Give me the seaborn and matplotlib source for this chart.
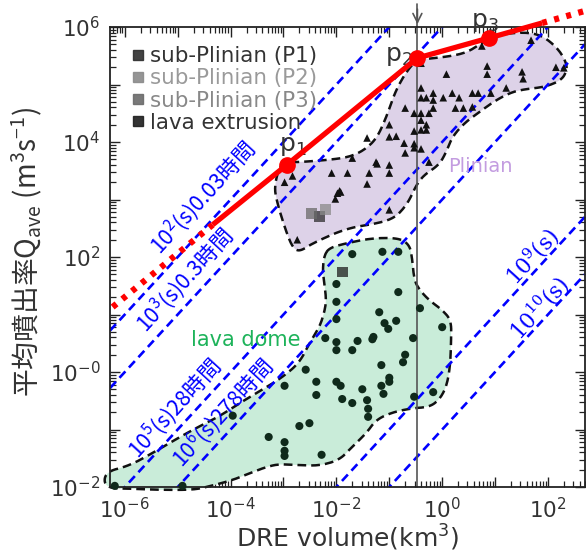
import numpy as np
import seaborn as sns
import matplotlib.pyplot as plt
from matplotlib.lines import Line2D
from matplotlib.ticker import FixedLocator, FixedFormatter, LogLocator, NullFormatter

sns.set_style('ticks')
plt.rcParams['font.family'] = ['DejaVu Sans', 'Noto Sans CJK JP']
plt.rcParams['mathtext.fontset'] = 'dejavusans'
CJK = ['Noto Sans CJK JP', 'DejaVu Sans']

# all values, stored as log10 (V: km3, Q: m3/s)
plinian_logV = [0.75, 1.68, -0.40, 0.08, 0.85, 0.85, 1.51, 1.53, 2.15, 2.30,
                -0.40, -0.40, -0.30, -0.17, -0.17, 0.02, 0.19, 0.32, 0.57, 0.68,
                0.92, 1.21, 0.57, 0.40, 0.25, -0.17, -0.25, -0.53, -0.40, -0.70,
                -0.40, -0.30, -0.40, -0.30, -0.53, -1.00, -1.00, -0.87, -0.72, -0.53,
                -0.53, -0.40, -0.70, -1.42, -1.25, -1.23, -1.00, -1.00, -1.38, -1.79,
                -2.09, -2.83, -2.98, -1.42, -1.94, -1.98, -0.25, -2.02, -1.00, -2.74,
                -1.92, -1.70]
plinian_logQ = [5.67, 5.77, 5.37, 5.18, 5.32, 5.18, 5.22, 5.10, 5.30, 5.29,
                4.94, 4.77, 4.77, 4.85, 4.73, 4.77, 4.85, 4.77, 4.85, 4.85,
                4.85, 4.94, 4.61, 4.59, 4.59, 4.59, 4.50, 4.50, 4.50, 4.59,
                4.38, 4.30, 4.21, 4.21, 4.19, 4.30, 4.09, 4.10, 3.98, 3.97,
                3.90, 3.88, 3.81, 4.07, 3.65, 3.62, 3.60, 3.46, 3.46, 3.46,
                3.46, 3.41, 3.30, 3.27, 3.15, 3.11, 3.65, 3.01, 2.82, 2.30,
                3.13, 3.72]

dome_logV = [-1.70, -1.13, -0.83, -2.00, -0.83, -2.00, -2.00, -1.19, -1.09, -0.87,
             -1.02, -0.42, 0.00, -2.21, -2.00, -2.00, -1.60, -1.70, -1.32, -1.30,
             -0.55, -0.70, -0.74, -1.15, -2.58, -2.98, -2.38, -2.00, -1.92, -2.38,
             -1.51, -1.15, -1.00, -1.00, -1.11, -1.89, -1.70, -1.42, -1.40, -1.40,
             -0.53, -0.17, -2.51, -2.70, -2.28, -2.98, -2.98, -2.98, -3.96, -3.28,
             -4.91, -6.19]
dome_logQ = [2.05, 2.09, 2.09, 1.53, 1.39, 1.22, 0.92, 1.04, 0.85, 0.89,
             0.75, 1.11, 0.78, 0.59, 0.52, 0.38, 0.54, 0.38, 0.57, 0.61,
             0.59, 0.30, 0.17, 0.12, 0.04, -0.24, -0.17, -0.17, -0.24, -0.40,
             -0.30, -0.24, -0.10, -0.17, -0.38, -0.47, -0.54, -0.49, -0.64, -0.78,
             -0.43, -0.35, -0.89, -0.94, -1.44, -1.22, -1.37, -1.46, -0.76, -1.13,
             -1.98, -1.98]

square_labels = ['sub-Plinian (P1)', 'sub-Plinian (P2)', 'sub-Plinian (P3)', 'lava extrusion']
square_logV = [-2.32, -2.21, -2.47, -1.89]
square_logQ = [2.71, 2.83, 2.75, 1.74]

# outlines of the two fields
plin_edge_logV = [-3.00, -2.70, -2.13, -1.75, -1.47, -1.23, -1.04, -0.91, -0.77, -0.62,
                  -0.47, 0.08, 0.45, 0.70, 0.94, 1.32, 1.70, 1.96, 2.21, 2.34,
                  2.36, 2.26, 1.96, 1.58, 1.32, 1.02, 0.70, 0.42, 0.19, 0.08,
                  -0.06, -0.34, -0.49, -0.62, -0.75, -0.91, -1.19, -1.81, -2.45, -2.70,
                  -2.83, -2.94, -3.04, -3.13, -3.17, -3.11]
plin_edge_logQ = [3.65, 3.65, 3.69, 3.74, 3.86, 4.07, 4.47, 4.82, 5.08, 5.29,
                  5.43, 5.48, 5.55, 5.69, 5.83, 5.90, 5.90, 5.81, 5.60, 5.39,
                  5.25, 5.08, 4.96, 4.92, 4.87, 4.73, 4.52, 4.33, 4.09, 3.83,
                  3.60, 3.43, 3.25, 2.99, 2.82, 2.68, 2.59, 2.50, 2.24, 2.09,
                  2.17, 2.42, 2.70, 2.99, 3.20, 3.48]
dome_edge_logV = [-2.23, -2.13, -1.81, -1.32, -0.81, -0.62, -0.57, -0.53, -0.43, -0.25,
                  0.00, 0.17, 0.17, 0.15, 0.08, -0.06, -0.25, -0.57, -0.94, -1.25,
                  -1.43, -1.70, -1.94, -2.32, -2.70, -3.08, -3.32, -3.58, -3.96, -4.45,
                  -4.72, -5.34, -5.85, -6.38, -6.38, -5.91, -5.40, -4.96, -4.58, -4.21,
                  -3.83, -3.40, -3.02, -2.70, -2.51, -2.32, -2.23, -2.19, -2.23, -2.26]
dome_edge_logQ = [2.03, 2.16, 2.24, 2.33, 2.33, 2.21, 2.00, 1.60, 1.43, 1.25,
                  1.08, 0.90, 0.56, 0.09, -0.26, -0.49, -0.61, -0.63, -0.70, -0.83,
                  -1.06, -1.30, -1.53, -1.63, -1.62, -1.60, -1.65, -1.74, -1.88, -2.00,
                  -2.05, -2.05, -2.03, -2.02, -1.74, -1.63, -1.37, -1.13, -0.94, -0.77,
                  -0.54, -0.31, -0.09, 0.16, 0.50, 0.78, 1.03, 1.25, 1.55, 1.77]

# red trend line (p1, p2, p3 and extensions)
red_logV = [-6.23, -4.34, -2.94, -0.47, 0.89, 1.89, 2.70]
red_logQ = [1.13, 2.56, 3.60, 5.46, 5.81, 6.07, 6.28]

durations = [1e2, 1e3, 1e5, 1e6, 1e9, 1e10]
v_mark = 0.34


def smooth(xs, ys, n=3):
    pts = np.column_stack([xs, ys])
    for _ in range(n):
        nxt = np.roll(pts, -1, axis=0)
        out = np.empty((2 * len(pts), 2))
        out[0::2] = 0.75 * pts + 0.25 * nxt
        out[1::2] = 0.25 * pts + 0.75 * nxt
        pts = out
    pts = np.vstack([pts, pts[:1]])
    return 10 ** pts[:, 0], 10 ** pts[:, 1]


fig = plt.figure(figsize=(5.86, 5.52), dpi=100)
ax = fig.add_axes([110 / 586, 65 / 552, 475 / 586, 460 / 552])
ax.set_xscale('log')
ax.set_yscale('log')
xlo, xhi = 10 ** -6.28, 10 ** 2.7
ax.set_xlim(xlo, xhi)
ax.set_ylim(1e-2, 1e6)

# fields
px, py = smooth(plin_edge_logV, plin_edge_logQ)
ax.fill(px, py, facecolor='#ddd2e8', edgecolor='none', zorder=1)
ax.plot(px, py, color='#111111', lw=1.8, ls=(0, (3.5, 2)), zorder=1.5)
gx, gy = smooth(dome_edge_logV, dome_edge_logQ)
ax.fill(gx, gy, facecolor='#c9ecd9', edgecolor='none', zorder=1, clip_on=False)
ax.plot(gx, gy, color='#111111', lw=1.8, ls=(0, (3.5, 2)), zorder=1.5, clip_on=False)

# constant-duration lines
vv = np.array([xlo, xhi])
for t in durations:
    ax.plot(vv, vv * 1e9 / t, color='#0000ff', lw=1.9, ls=(0, (3.3, 2)), zorder=2)

# vertical marker at 0.3 km3
bl = ax.get_xaxis_transform()
ax.plot([v_mark, v_mark], [0, 1.05], transform=bl, color='#555555', lw=1.2,
        clip_on=False, zorder=2)
ax.annotate('', xy=(v_mark, 1.0), xycoords=bl, xytext=(v_mark, 1.045),
            arrowprops=dict(arrowstyle='->', color='#555555', lw=1.2, mutation_scale=16))
ax.text(v_mark, 1.049, '0.3', transform=bl, ha='center', va='bottom',
        fontsize=16, color='#333333')

# points
sns.scatterplot(x=10 ** np.array(plinian_logV), y=10 ** np.array(plinian_logQ),
                marker='^', s=30, color='#111111', edgecolor='none', ax=ax,
                legend=False, zorder=4)
sns.scatterplot(x=10 ** np.array(dome_logV), y=10 ** np.array(dome_logQ),
                marker='o', s=34, color='#0f2a1b', edgecolor='none', ax=ax,
                legend=False, zorder=4, clip_on=False)

sq_colors = ['#2e2e2e', '#8a8a8a', '#6a6a6a', '#1e1e1e']
sq_text = ['#333333', '#9a9a9a', '#888888', '#333333']
for lv, lq, c in zip(square_logV, square_logQ, sq_colors):
    ax.scatter(10 ** lv, 10 ** lq, marker='s', s=60, color=c, alpha=0.75,
               edgecolor='none', zorder=5)

# red line
rv = 10 ** np.array(red_logV)
rq = 10 ** np.array(red_logQ)
ax.plot(rv[:2], rq[:2], color='#ff0000', lw=4.5, ls=(0, (0.8, 1.2)), zorder=6,
        solid_capstyle='butt', clip_on=False)
ax.plot(rv[5:], rq[5:], color='#ff0000', lw=4.5, ls=(0, (0.8, 1.2)), zorder=6,
        clip_on=False)
ax.plot(rv[1:6], rq[1:6], color='#ff0000', lw=3.8, zorder=6,
        solid_capstyle='butt', clip_on=False)
ax.plot(rv[2:5], rq[2:5], ls='none', marker='o', ms=11, color='#ff0000', zorder=7,
        clip_on=False)
for lv, lq, s in [(-2.82, 3.93, 'p$_{\\mathregular{1}}$'),
                  (-0.83, 5.50, 'p$_{\\mathregular{2}}$'),
                  (0.81, 6.09, 'p$_{\\mathregular{3}}$')]:
    ax.text(10 ** lv, 10 ** lq, s, ha='center', va='center', fontsize=18,
            color='#333333')

# labels on the duration lines
ang = 47.5
line_labels = [(-4.53, 3.03, '10$^{\\mathregular{2}}$(s)0.03時間', CJK),
               (-4.87, 1.60, '10$^{\\mathregular{3}}$(s)0.3時間', CJK),
               (-5.06, -0.63, '10$^{\\mathregular{5}}$(s)28時間', CJK),
               (-4.15, -0.71, '10$^{\\mathregular{6}}$(s)278時間', CJK),
               (1.70, 2.00, '10$^{\\mathregular{9}}$(s)', ['DejaVu Serif']),
               (1.83, 1.11, '10$^{\\mathregular{10}}$(s)', ['DejaVu Serif'])]
for lv, lq, s, fam in line_labels:
    ax.text(10 ** lv, 10 ** lq, s, rotation=ang, rotation_mode='anchor',
            ha='center', va='center', color='#0000ff', fontsize=15.5, family=fam)

ax.text(10 ** -3.72, 10 ** 0.56, 'lava dome', ha='center', va='center',
        fontsize=15, color='#1db35a')
ax.text(10 ** 0.72, 10 ** 3.58, 'Plinian', ha='center', va='center',
        fontsize=14, color='#c39ce0')

# legend
handles = [Line2D([], [], marker='s', ls='none', color=c, alpha=0.9, markersize=7)
           for c in sq_colors]
leg = ax.legend(handles, square_labels, loc='upper left', bbox_to_anchor=(0.045, 0.958),
                frameon=False, fontsize=15.4, handlelength=0.6, handletextpad=0.25,
                labelspacing=0.1, borderpad=0, borderaxespad=0)
for txt, c in zip(leg.get_texts(), sq_text):
    txt.set_color(c)

# axes, ticks
xt = 10.0 ** np.arange(-6, 3)
ax.xaxis.set_major_locator(FixedLocator(xt))
ax.xaxis.set_major_formatter(FixedFormatter(
    ['$\\mathregular{10^{%d}}$' % e if e % 2 == 0 else '' for e in range(-6, 3)]))
yt = 10.0 ** np.arange(-2, 7)
ylabs = []
for e in range(-2, 7):
    if e % 2:
        ylabs.append('')
    elif e == 0:
        ylabs.append('$\\mathregular{10^{-0}}$')
    else:
        ylabs.append('$\\mathregular{10^{%d}}$' % e)
ax.yaxis.set_major_locator(FixedLocator(yt))
ax.yaxis.set_major_formatter(FixedFormatter(ylabs))
for a in (ax.xaxis, ax.yaxis):
    a.set_minor_locator(LogLocator(base=10, subs=np.arange(2, 10), numticks=30))
    a.set_minor_formatter(NullFormatter())
ax.tick_params(which='both', direction='in', top=True, right=True, colors='#222222',
               labelcolor='#333333', labelsize=15.5)
ax.tick_params(which='major', length=7, width=1.0, pad=7)
ax.tick_params(which='minor', length=4, width=0.9)
for sp in ax.spines.values():
    sp.set_color('#222222')
    sp.set_linewidth(1.3)

ax.set_xlabel('DRE volume(km$^{\\mathregular{3}}$)', fontsize=18, color='#333333',
              va='center')
ax.xaxis.set_label_coords(0.5, -(538 - 487) / 460)
ax.set_ylabel('平均噴出率Q$_{\\mathregular{ave}}$ (m$^{\\mathregular{3}}$s$^{\\mathregular{-1}}$)',
              fontsize=20, color='#333333', va='center', family=CJK)
ax.yaxis.set_label_coords(-(110 - 27) / 475, 0.51)

fig.savefig('out.png', dpi=100)
